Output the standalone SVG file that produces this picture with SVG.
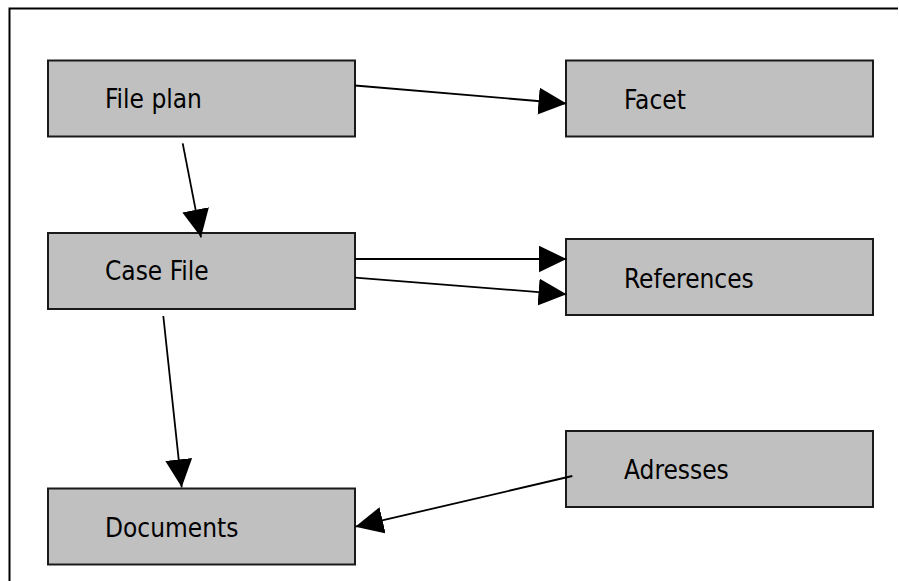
<svg xmlns="http://www.w3.org/2000/svg" width="899" height="581" viewBox="0 0 899 581">
<style>
.box{fill:#c0c0c0;stroke:#1a1a1a;stroke-width:2}
.lbl{font-family:"DejaVu Sans Condensed","DejaVu Sans",sans-serif;font-size:26px;fill:#000}
.edge{stroke:#000;stroke-width:1.8;fill:none;marker-end:url(#ah)}
.frame{stroke:#000;stroke-width:2;fill:none}
</style>
<defs>
<marker id="ah" markerUnits="userSpaceOnUse" markerWidth="30" markerHeight="28" refX="28" refY="13.5" orient="auto">
<path d="M0,0 L28,13.5 L0,27 z" fill="#000"/>
</marker>
</defs>
<rect width="899" height="581" fill="#fff"/>
<path class="frame" d="M9.5,581 V8.5 H898"/>
<g id="node-fileplan"><rect class="box" x="48" y="60.5" width="307" height="76"/><text class="lbl" x="105" y="108">File plan</text></g>
<g id="node-casefile"><rect class="box" x="48" y="233" width="307" height="76"/><text class="lbl" x="105" y="280">Case File</text></g>
<g id="node-documents"><rect class="box" x="48" y="488.5" width="307" height="76"/><text class="lbl" x="105" y="536.5">Documents</text></g>
<g id="node-facet"><rect class="box" x="566" y="60.5" width="307" height="76"/><text class="lbl" x="624" y="108.5">Facet</text></g>
<g id="node-references"><rect class="box" x="566" y="239" width="307" height="76"/><text class="lbl" x="624" y="287.5">References</text></g>
<g id="node-adresses"><rect class="box" x="566" y="431" width="307" height="76"/><text class="lbl" x="624" y="478.5">Adresses</text></g>
<g id="connectors">
<line class="edge" x1="355" y1="85.5" x2="566.5" y2="103.5"/>
<line class="edge" x1="182.7" y1="143.3" x2="201" y2="237.3"/>
<line class="edge" x1="355" y1="259" x2="566.5" y2="259"/>
<line class="edge" x1="355" y1="277.7" x2="566.5" y2="294.3"/>
<line class="edge" x1="163.3" y1="316" x2="181.7" y2="487.3"/>
<line class="edge" x1="572.3" y1="476" x2="355.3" y2="526.7"/>
</g>
</svg>
